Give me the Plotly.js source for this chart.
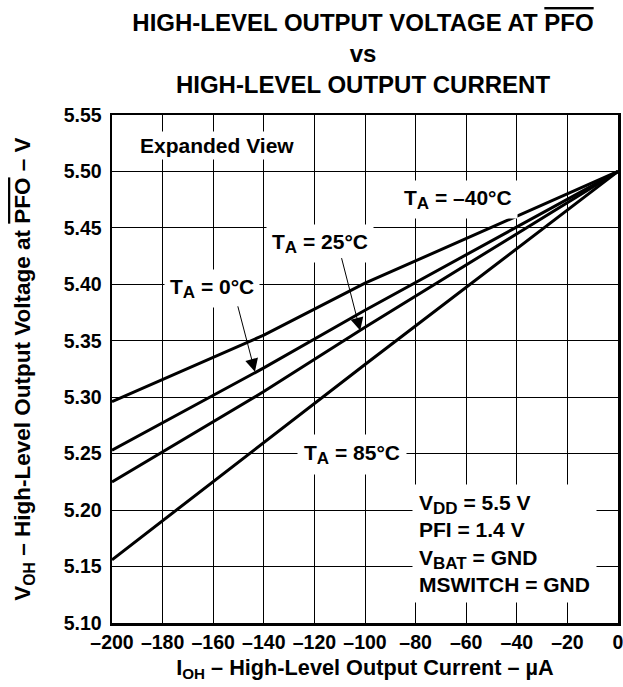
<!DOCTYPE html>
<html>
<head>
<meta charset="utf-8">
<script src="https://cdn.plot.ly/plotly-3.0.1.min.js"></script>
<style>
html, body { margin: 0; padding: 0; background: #fff; }
#chart { width: 623px; height: 687px; }
</style>
</head>
<body>
<div id="chart"></div>
<script>
// Data
const currentUA = [-200, -140, -100, 0];
const vohMinus40 = [5.296, 5.355, 5.401, 5.500];
const voh0 = [5.253, 5.326, 5.377, 5.500];
const voh25 = [5.225, 5.305, 5.362, 5.500];
const voh85 = [5.156, 5.260, 5.329, 5.500];

const xTicks = [-200, -180, -160, -140, -120, -100, -80, -60, -40, -20, 0];
const yTicks = [5.10, 5.15, 5.20, 5.25, 5.30, 5.35, 5.40, 5.45, 5.50, 5.55];

const FONT = '"Liberation Sans", Arial, Helvetica, sans-serif';
const lineStyle = { color: '#000', width: 3 };

const traces = [
  { x: currentUA, y: vohMinus40, name: 'TA = -40°C' },
  { x: currentUA, y: voh0, name: 'TA = 0°C' },
  { x: currentUA, y: voh25, name: 'TA = 25°C' },
  { x: currentUA, y: voh85, name: 'TA = 85°C' }
].map(t => Object.assign(t, { type: 'scatter', mode: 'lines', line: lineStyle, hoverinfo: 'skip' }));

const annFont = { family: FONT, size: 21, color: '#000', weight: 'bold' };
const sub = s => '<sub><span style="font-size:17px">' + s + '</span></sub>';
const label = (text, x, y, extra) => Object.assign({
  text: text, x: x, y: y, xref: 'x', yref: 'y', showarrow: false,
  font: annFont, bgcolor: '#fff', borderpad: 5, xanchor: 'center', yanchor: 'middle'
}, extra || {});

const annotations = [
  label('Expanded View', -190, 5.5234, { xanchor: 'left', borderpad: 2 }),
  label('T' + sub('A') + ' = –40°C', -63.2, 5.475),
  label('T' + sub('A') + ' = 25°C', -117.8, 5.436),
  label('T' + sub('A') + ' = 0°C', -160.5, 5.396),
  label('T' + sub('A') + ' = 85°C', -105.1, 5.249, { borderpad: 6 }),
  label('V' + sub('DD') + ' = 5.5 V<br>PFI = 1.4 V<br>V' + sub('BAT') + ' = GND<br>MSWITCH = GND',
        -81.3, 5.2235, { xanchor: 'left', yanchor: 'top', align: 'left', borderpad: 6,
        font: { family: FONT, size: 21, color: '#000', weight: 'bold' } }),
  // arrows
  { text: '', x: -143.5, y: 5.3225, xref: 'x', yref: 'y', ax: -17.5, ay: -67, showarrow: true,
    arrowhead: 2, arrowsize: 2.6, arrowwidth: 1, arrowcolor: '#000' },
  { text: '', x: -101.9, y: 5.359, xref: 'x', yref: 'y', ax: -19, ay: -74, showarrow: true,
    arrowhead: 2, arrowsize: 2.6, arrowwidth: 1, arrowcolor: '#000' }
];

const layout = {
  width: 623, height: 687,
  margin: { l: 112, r: 5, t: 115, b: 64 },
  paper_bgcolor: '#fff', plot_bgcolor: '#fff',
  showlegend: false,
  font: { family: FONT, color: '#000' },
  title: {
    text: 'HIGH-LEVEL OUTPUT VOLTAGE AT <span style="text-decoration:overline">PFO</span><br>vs<br>HIGH-LEVEL OUTPUT CURRENT',
    font: { family: FONT, size: 24, color: '#000', weight: 'bold' },
    x: 363 / 623, xref: 'container', xanchor: 'center',
    y: 1 - 31 / 687, yref: 'container', yanchor: 'top'
  },
  xaxis: {
    range: [-200, 0],
    tickmode: 'array', tickvals: xTicks, ticktext: xTicks.map(v => v < 0 ? '–' + Math.abs(v) : String(v)),
    showgrid: true, gridcolor: '#000', gridwidth: 1,
    showline: true, linecolor: '#000', linewidth: 2.5, mirror: true,
    zeroline: false, ticks: '', ticklabeloverflow: 'allow',
    tickfont: { family: FONT, size: 19.5, color: '#000', weight: 'bold' },
    title: {
      text: 'I<sub>OH</sub> – High-Level Output Current – µA',
      font: { family: FONT, size: 21.7, color: '#000', weight: 'bold' },
      standoff: 8
    }
  },
  yaxis: {
    range: [5.10, 5.55],
    tickmode: 'array', tickvals: yTicks, ticktext: yTicks.map(v => v.toFixed(2)),
    showgrid: true, gridcolor: '#000', gridwidth: 1,
    showline: true, linecolor: '#000', linewidth: 2.5, mirror: true,
    zeroline: false, ticks: '', ticklabelstandoff: 4,
    tickfont: { family: FONT, size: 19.5, color: '#000', weight: 'bold' },
    title: {
      text: 'V<sub>OH</sub> – High-Level Output Voltage at <span style="text-decoration:overline">PFO</span> – V',
      font: { family: FONT, size: 22.5, color: '#000', weight: 'bold' },
      standoff: 27
    }
  },
  annotations: annotations
};

Plotly.newPlot('chart', traces, layout, { staticPlot: true, displayModeBar: false });
</script>
</body>
</html>
